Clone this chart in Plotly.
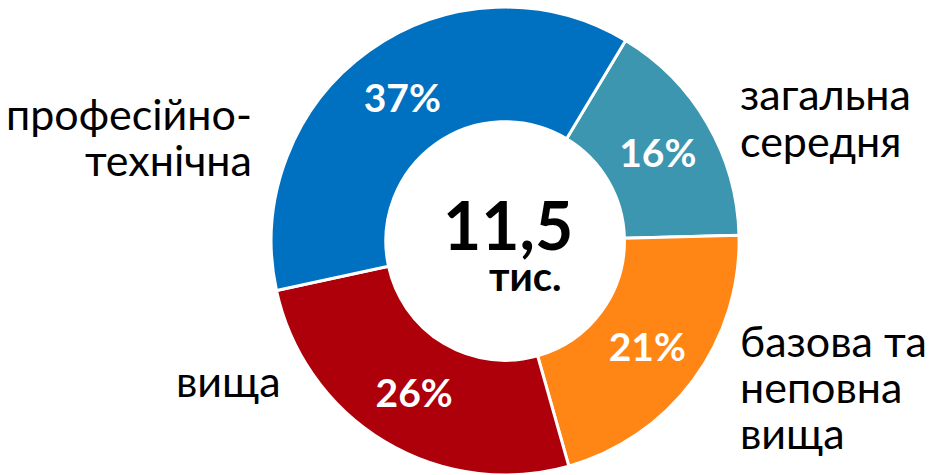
import plotly.graph_objects as go

labels = ["загальна середня", "базова та неповна вища", "вища", "професійно-технічна"]
label_lines = [["загальна", "середня"], ["базова та", "неповна", "вища"], ["вища"], ["професійно-", "технічна"]]
values = [16, 21, 26, 37]
colors = ["#3D96B0", "#FF8515", "#AE000A", "#0070C0"]
center_value = "11,5"
center_unit = "тис."

FONT = "Lato"
W, H = 932, 475

fig = go.Figure(go.Pie(
    labels=labels,
    values=values,
    hole=0.51,
    sort=False,
    direction="clockwise",
    rotation=31,
    marker=dict(colors=colors, line=dict(color="white", width=3)),
    texttemplate="%{value}%",
    textposition="inside",
    insidetextorientation="horizontal",
    textfont=dict(family=FONT, size=39, color="white", weight="bold"),
    domain=dict(x=[0.28, 0.804], y=[0.0, 0.985]),
    showlegend=False,
    hoverinfo="label+percent",
))

# layout placement of each label block: anchor x, first-line y, side
label_layout = [
    dict(x=738, y=94, side="left"),
    dict(x=738, y=340, side="left"),
    dict(x=283, y=380, side="right"),
    dict(x=254, y=113, side="right"),
]
LINE_GAP = 46

annotations = []
for lines, p in zip(label_lines, label_layout):
    for i, line in enumerate(lines):
        annotations.append(dict(
            text=line, x=p["x"] / W, y=1 - (p["y"] + i * LINE_GAP) / H,
            xref="paper", yref="paper",
            xanchor=p["side"], yanchor="middle", showarrow=False,
            font=dict(family=FONT, size=43, color="black"),
        ))
annotations.append(dict(
    text=center_value, x=508 / W, y=1 - 224 / H, xref="paper", yref="paper",
    showarrow=False, font=dict(family=FONT, size=66, color="black", weight="bold"),
))
annotations.append(dict(
    text=center_unit, x=525 / W, y=1 - 276 / H, xref="paper", yref="paper",
    showarrow=False, font=dict(family=FONT, size=40, color="black", weight="bold"),
))

fig.update_layout(
    width=W, height=H,
    margin=dict(l=0, r=0, t=0, b=0),
    paper_bgcolor="white",
    plot_bgcolor="white",
    annotations=annotations,
)

fig.write_html(
    "out.html",
    config={"displayModeBar": False},
    post_script="document.body.style.margin='0';document.body.style.overflow='hidden';",
)
